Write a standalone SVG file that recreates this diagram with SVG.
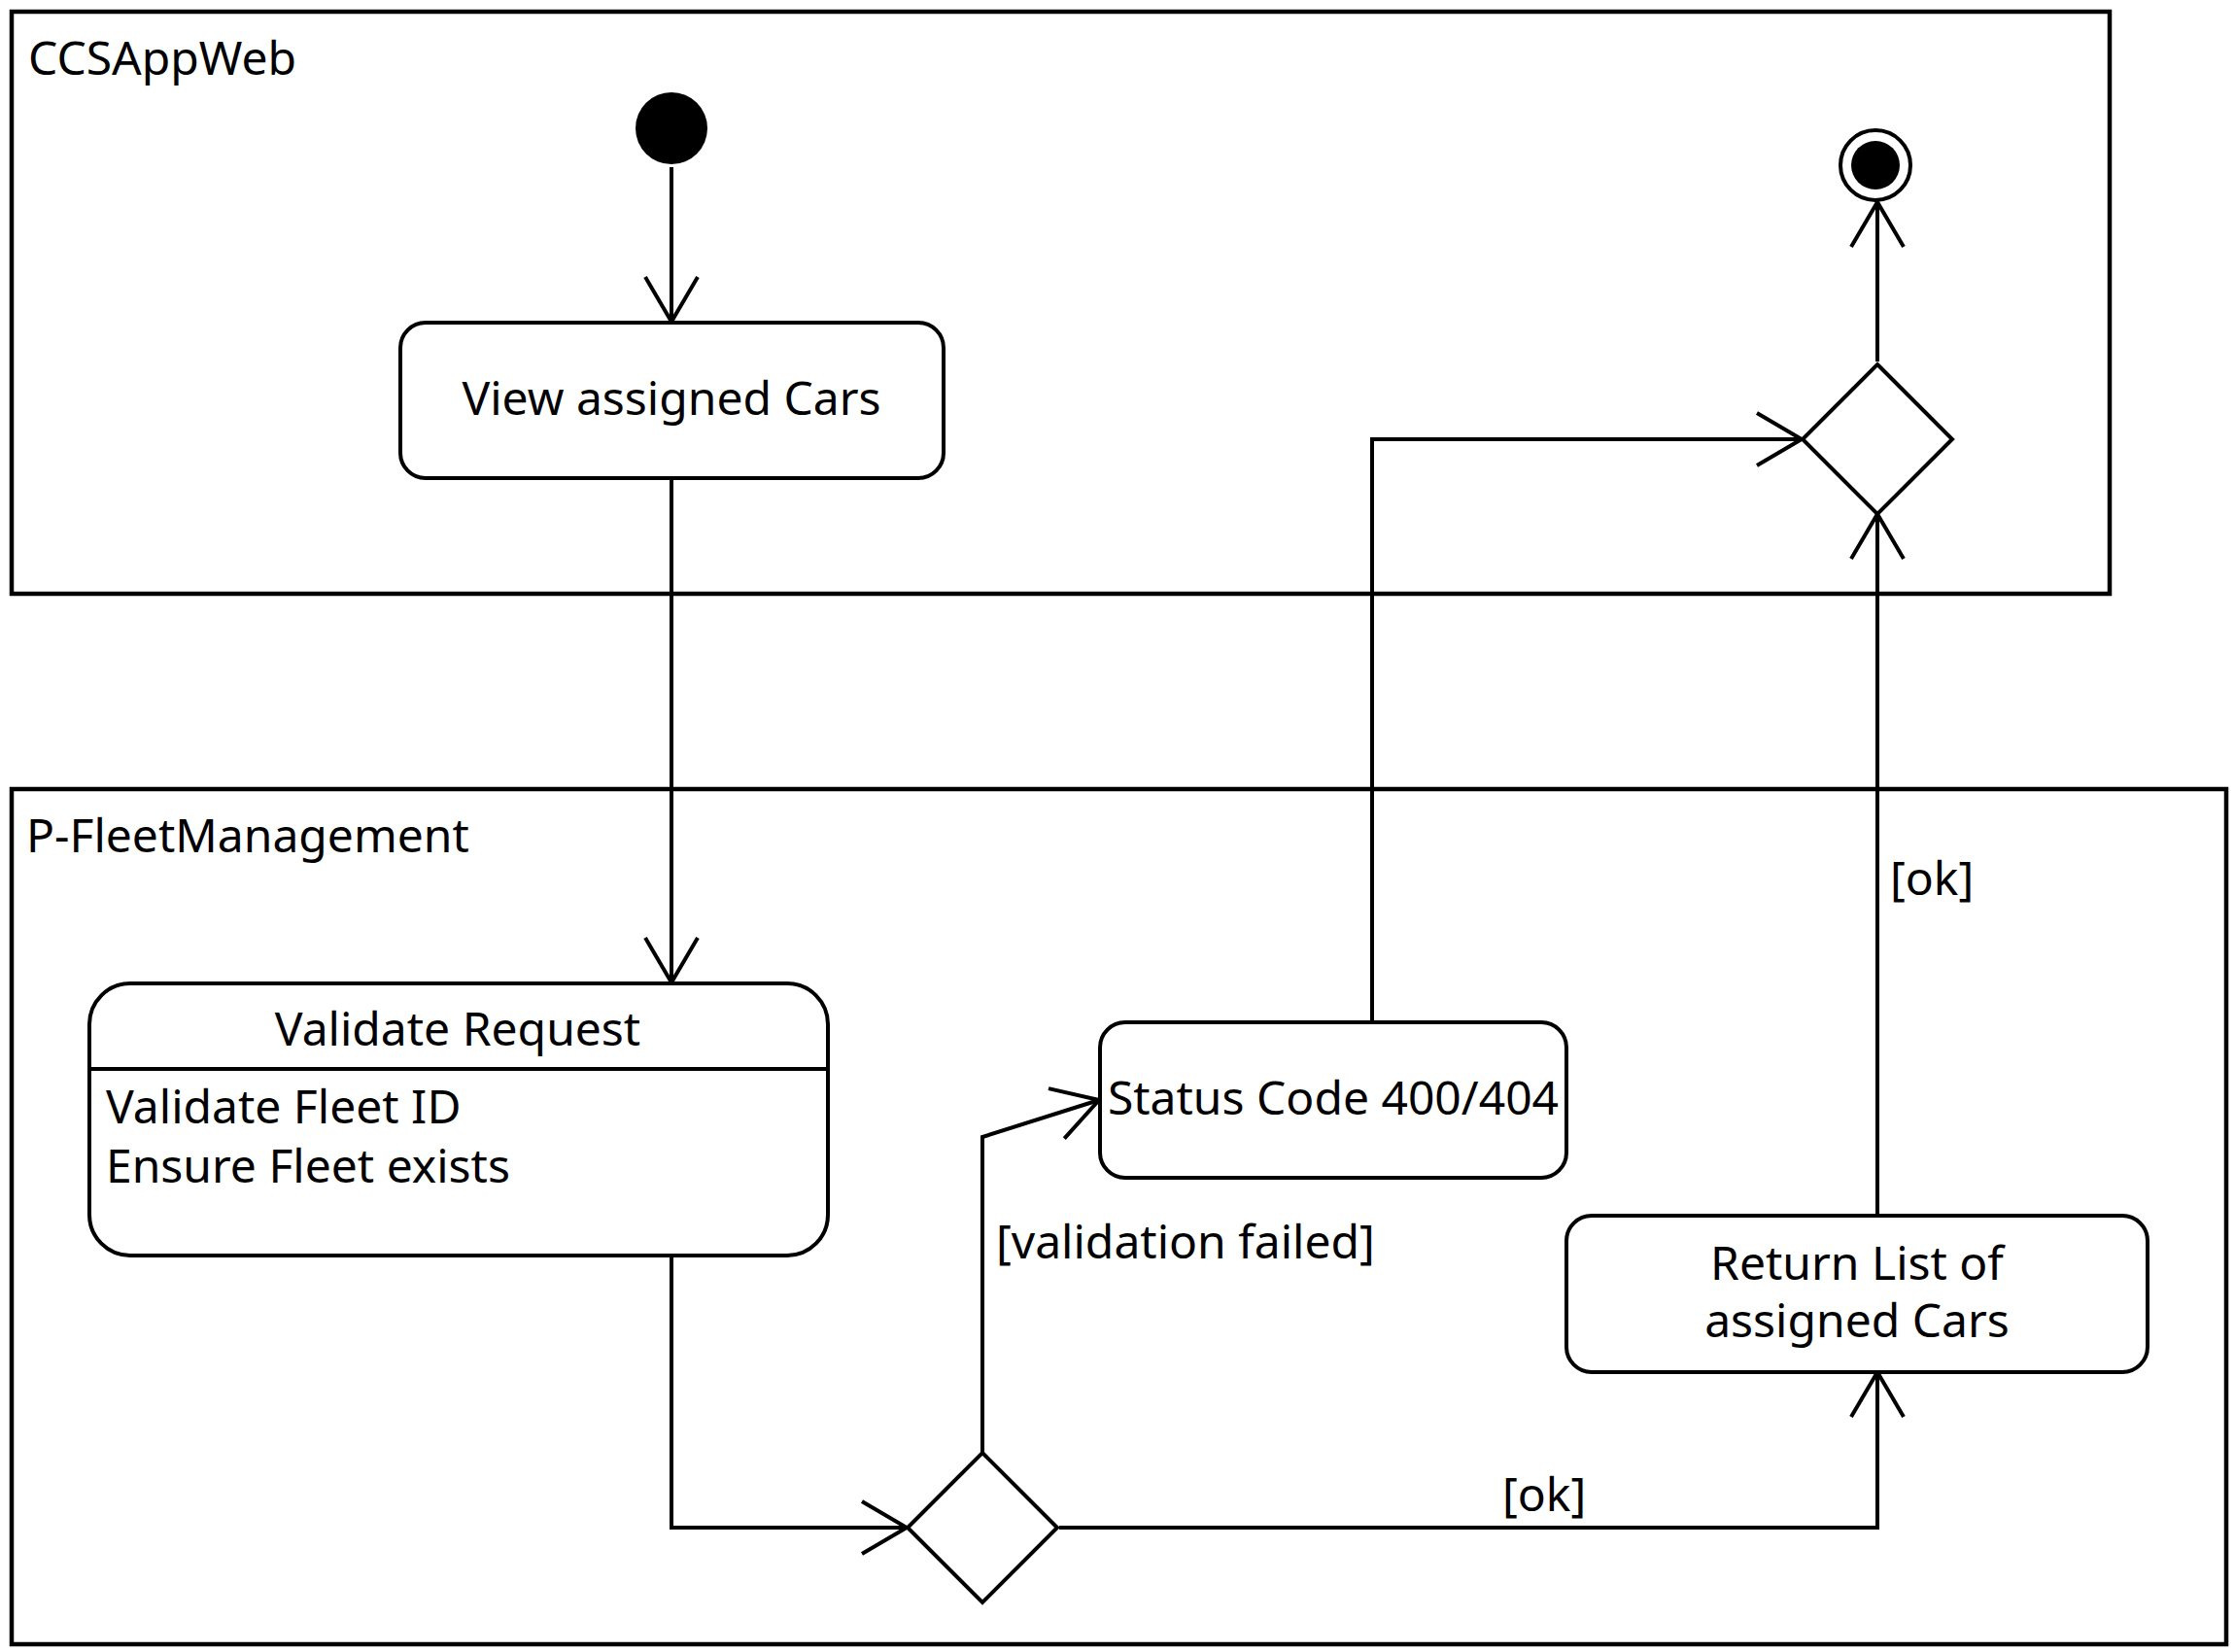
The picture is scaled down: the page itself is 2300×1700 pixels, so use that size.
<svg xmlns="http://www.w3.org/2000/svg" width="2300" height="1700" viewBox="0 0 2300 1700">
<style>
.frame{fill:none;stroke:#000;stroke-width:4.5}
.box{fill:#fff;stroke:#000;stroke-width:4}
.line{fill:none;stroke:#000;stroke-width:4}
.t{font-family:"Noto Sans","Open Sans","DejaVu Sans",sans-serif;font-size:48px;fill:#000}
.c{text-anchor:middle}
</style>
<defs>
<marker id="arr" markerUnits="userSpaceOnUse" viewBox="-50 -32 56 64" refX="0" refY="0" markerWidth="56" markerHeight="64" orient="auto" overflow="visible">
<path d="M-46,-27 L0,0 L-46,27" fill="none" stroke="#000" stroke-width="4"/>
</marker>
</defs>
<rect width="2300" height="1700" fill="#fff"/>
<g id="lane-ccsappweb">
<rect class="frame" x="12" y="12" width="2159" height="599"/>
<text class="t" x="29" y="77">CCSAppWeb</text>
</g>
<g id="lane-pfleet">
<rect class="frame" x="12" y="812" width="2279" height="880"/>
<text class="t" x="27" y="877">P-FleetManagement</text>
</g>
<g id="connectors">
<path class="line" d="M691,172 L691,331" marker-end="url(#arr)"/>
<path class="line" d="M691,492 L691,1011" marker-end="url(#arr)"/>
<path class="line" d="M691,1292 L691,1572 L933,1572" marker-end="url(#arr)"/>
<path class="line" d="M1011,1495 L1011,1170 L1131,1132" marker-end="url(#arr)"/>
<path class="line" d="M1412,1052 L1412,452 L1854,452" marker-end="url(#arr)"/>
<path class="line" d="M1090,1572 L1932,1572 L1932,1412" marker-end="url(#arr)"/>
<path class="line" d="M1932,1251 L1932,529" marker-end="url(#arr)"/>
<path class="line" d="M1932,372 L1932,208" marker-end="url(#arr)"/>
<text class="t" x="1025" y="1295">[validation failed]</text>
<text class="t" x="1945" y="921">[ok]</text>
<text class="t" x="1546" y="1555">[ok]</text>
</g>
<g id="start">
<circle cx="691" cy="132" r="37" fill="#000"/>
</g>
<g id="view-assigned-cars">
<rect class="box" x="412" y="332" width="559" height="160" rx="26" ry="26"/>
<text class="t c" x="691" y="427">View assigned Cars</text>
</g>
<g id="validate-request">
<rect class="box" x="92" y="1012" width="760" height="280" rx="42" ry="42"/>
<line class="line" x1="93" y1="1100" x2="850" y2="1100"/>
<text class="t c" x="471" y="1076">Validate Request</text>
<text class="t" x="109" y="1156">Validate Fleet ID</text>
<text class="t" x="109" y="1217">Ensure Fleet exists</text>
</g>
<g id="decision-validation">
<polygon class="box" points="1011,1495 1088,1572 1011,1649 934,1572"/>
</g>
<g id="status-code">
<rect class="box" x="1132" y="1052" width="480" height="160" rx="26" ry="26"/>
<text class="t c" x="1372" y="1147">Status Code 400/404</text>
</g>
<g id="return-list">
<rect class="box" x="1612" y="1251" width="598" height="161" rx="26" ry="26"/>
<text class="t c" x="1911" y="1317">Return List of</text>
<text class="t c" x="1911" y="1376">assigned Cars</text>
</g>
<g id="merge">
<polygon class="box" points="1932,375 2009,452 1932,529 1855,452"/>
</g>
<g id="end">
<circle cx="1930" cy="170" r="36" fill="#fff" stroke="#000" stroke-width="4"/>
<circle cx="1930" cy="170" r="25" fill="#000"/>
</g>
</svg>
